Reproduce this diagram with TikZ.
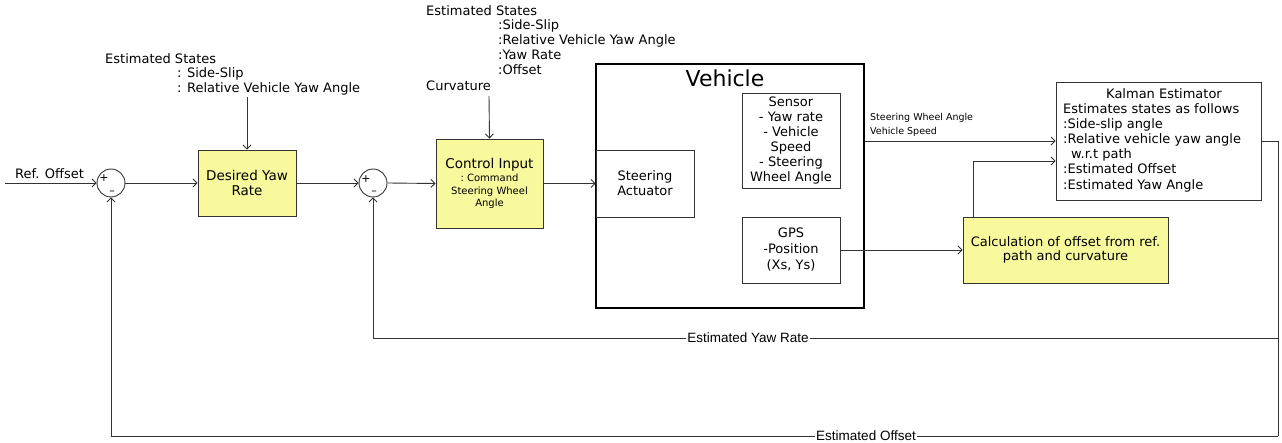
\documentclass[tikz,border=0pt]{standalone}
\usepackage{fontspec}
\setmainfont{DejaVu Sans}
\newfontfamily\narrowf{Liberation Sans}
\usetikzlibrary{arrows.meta}
\definecolor{boxyellow}{HTML}{F8F89C}
\definecolor{lncol}{HTML}{333333}
\begin{document}
\begin{tikzpicture}[x=1pt,y=-1pt,
  wire/.style={draw=lncol, line width=0.9pt},
  arr/.style={wire, -{Straight Barb[length=4pt,width=8pt]}},
  blk/.style={draw=lncol, line width=0.9pt, rectangle, inner sep=0pt, align=center, font=\fontsize{13}{15}\selectfont},
  ybox/.style={blk, fill=boxyellow},
  sumj/.style={draw=lncol, line width=0.9pt, circle, minimum size=28pt, inner sep=0pt},
  lbl/.style={inner sep=0pt, anchor=base west, font=\fontsize{13}{15}\selectfont},
  sml/.style={inner sep=0pt, anchor=base west, font=\fontsize{9.5}{12}\selectfont},
  sgn/.style={inner sep=0pt, font=\fontsize{11}{12}\selectfont},
  fb/.style={inner sep=1.5pt, fill=white, font=\narrowf\fontsize{13.5}{15}\selectfont},
]
\useasboundingbox (0,0) rectangle (1282,443);

% summing junctions
\node[sumj] (s1) at (111,183) {};
\node[sgn] (s1p) at (104,178) {+};
\node[sgn] (s1m) at (112,193) {–};
\node[sumj] (s2) at (373,183) {};
\node[sgn] (s2p) at (366,179) {+};
\node[sgn] (s2m) at (374,193) {–};

% blocks
\node[ybox, minimum width=98pt, minimum height=66pt, font=\fontsize{13.5}{15}\selectfont] (dyr) at (247,183) {Desired Yaw\\Rate};
\node[ybox, minimum width=107pt, minimum height=89pt, font=\fontsize{10}{12.5}\selectfont] (ci) at (489.5,183.5)
  {{\fontsize{13.5}{15}\selectfont Control Input}\\[1pt]:~Command\\Steering Wheel\\Angle};

\node[draw=black, line width=1.8pt, rectangle, minimum width=268pt, minimum height=244pt] (veh) at (730,186) {};
\node[inner sep=0pt, anchor=base, font=\fontsize{22}{24}\selectfont] (vt) at (725,87) {Vehicle};
\node[blk, minimum width=98pt, minimum height=67pt] (sa) at (645,183.5) {Steering\\Actuator};
\node[blk, minimum width=98pt, minimum height=95pt] (sen) at (791,140.5)
  {Sensor\\- Yaw rate\\- Vehicle\\Speed\\- Steering\\Wheel Angle};
\node[blk, minimum width=98pt, minimum height=66pt, font=\fontsize{13}{16}\selectfont] (gps) at (791,250) {GPS\\-Position\\(Xs, Ys)};

\node[blk, minimum width=205pt, minimum height=118pt] (kal) at (1158.5,141) {};
\node[inner sep=0pt, anchor=base, font=\fontsize{13}{15}\selectfont] (kt) at (1164,99) {Kalman Estimator};
\node[lbl] (k1) at (1063,114) {Estimates states as follows};
\node[lbl] (k2) at (1063,129) {:Side-slip angle};
\node[lbl] (k3) at (1063,144) {:Relative vehicle yaw angle};
\node[lbl] (k4) at (1071,159) {w.r.t path};
\node[lbl] (k5) at (1063,174) {:Estimated Offset};
\node[lbl] (k6) at (1063,190) {:Estimated Yaw Angle};

\node[ybox, minimum width=205pt, minimum height=66pt, font=\fontsize{13}{14.5}\selectfont] (calc) at (1065.5,250)
  {Calculation of offset from ref.\\path and curvature};

% texts
\node[lbl] (ro) at (15,179) {Ref. Offset};
\node[lbl] (e1a) at (105,64) {Estimated States};
\node[lbl] (e1b) at (177,78) {: Side-Slip};
\node[lbl] (e1c) at (177,93) {: Relative Vehicle Yaw Angle};
\node[lbl] (e2a) at (426,16) {Estimated States};
\node[lbl] (e2b) at (498,30) {:Side-Slip};
\node[lbl] (e2c) at (498,45) {:Relative Vehicle Yaw Angle};
\node[lbl] (e2d) at (498,60) {:Yaw Rate};
\node[lbl] (e2e) at (498,75) {:Offset};
\node[lbl] (cu) at (426,91) {Curvature};
\node[sml] (sw) at (870,121) {Steering Wheel Angle};
\node[sml] (vs) at (870,135) {Vehicle Speed};

% coordinates
\coordinate (refin) at (5,183);
\coordinate (dyrin) at (247,97);
\coordinate (ciin) at (489,96);
\coordinate (kr) at (1278,141);
\coordinate (ky) at (1278,338);
\coordinate (kb) at (1278,436);

% connectors
\draw[arr] (refin) -- (s1.west);
\draw[arr] (s1.east) -- (dyr.west);
\draw[arr] (dyrin) -- (dyr.north);
\draw[arr] (dyr.east) -- (s2.west);
\draw[arr] (s2.east) -- (ci.west);
\draw[arr] (ciin) -- (ci.north);
\draw[arr] (ci.east) -- (sa.west);
\draw[arr] (veh.east |- kal.west) -- (kal.west);
\draw[arr] (gps.east) -- (calc.west);
\draw[arr] ([xshift=11pt]calc.north west) |- ([yshift=-20pt]kal.west);
\draw[wire] (kal.east) -- (kr) -- (kb);
\draw[arr] (ky) -| (s2.south);
\draw[arr] (kb) -| (s1.south);

\node[fb] (eyr) at (748,338) {Estimated Yaw Rate};
\node[fb] (eo) at (866,436) {Estimated Offset};
\end{tikzpicture}
\end{document}
